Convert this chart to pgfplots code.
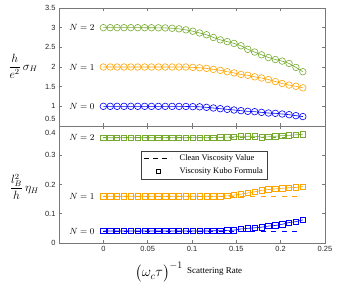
\documentclass[border=0pt]{standalone}
\usepackage{amsmath}
\usepackage{fontspec}
\setmainfont{Liberation Serif}
\setsansfont{Liberation Sans}
\usepackage{pgfplots}
\usepackage{pgfplotstable}
\pgfplotsset{compat=1.18}
\definecolor{cgreen}{RGB}{118,171,47}
\definecolor{corange}{RGB}{255,165,0}
\definecolor{cblue}{RGB}{0,0,255}
\definecolor{axgray}{RGB}{120,120,120}

\pgfplotstableread{
x g o b
0.0000 3.000 2.000 1.000
0.0078 3.000 2.000 1.000
0.0155 3.000 2.000 1.000
0.0233 3.000 2.000 1.000
0.0310 3.000 2.000 1.000
0.0388 3.000 2.000 1.000
0.0466 2.999 2.000 1.000
0.0543 2.998 2.000 0.999
0.0621 2.996 2.000 0.999
0.0698 2.993 2.000 0.999
0.0776 2.985 2.000 0.999
0.0853 2.970 2.000 0.998
0.0931 2.945 2.000 0.997
0.1009 2.910 1.990 0.992
0.1086 2.865 1.980 0.988
0.1164 2.820 1.965 0.975
0.1241 2.750 1.940 0.958
0.1319 2.690 1.915 0.940
0.1397 2.645 1.880 0.924
0.1474 2.600 1.850 0.907
0.1552 2.540 1.810 0.890
0.1629 2.450 1.790 0.873
0.1707 2.380 1.750 0.864
0.1784 2.310 1.720 0.847
0.1862 2.240 1.680 0.830
0.1940 2.190 1.630 0.822
0.2017 2.150 1.580 0.805
0.2095 2.090 1.540 0.788
0.2172 1.990 1.510 0.763
0.2250 1.880 1.470 0.740
}\topdata

\pgfplotstableread{
x g o b
0.0000 0.360 0.160 0.041
0.0078 0.360 0.160 0.041
0.0155 0.360 0.160 0.041
0.0233 0.360 0.160 0.041
0.0310 0.360 0.160 0.041
0.0388 0.360 0.160 0.041
0.0466 0.360 0.160 0.041
0.0543 0.360 0.160 0.041
0.0621 0.360 0.160 0.041
0.0698 0.360 0.160 0.041
0.0776 0.360 0.160 0.041
0.0853 0.360 0.160 0.041
0.0931 0.360 0.160 0.041
0.1009 0.360 0.160 0.041
0.1086 0.360 0.160 0.041
0.1164 0.360 0.160 0.041
0.1241 0.360 0.160 0.042
0.1319 0.362 0.160 0.042
0.1397 0.362 0.161 0.043
0.1474 0.363 0.164 0.044
0.1552 0.365 0.167 0.048
0.1629 0.365 0.171 0.050
0.1707 0.365 0.175 0.052
0.1784 0.362 0.180 0.054
0.1862 0.363 0.183 0.058
0.1940 0.365 0.185 0.060
0.2017 0.367 0.187 0.064
0.2095 0.368 0.189 0.070
0.2172 0.370 0.190 0.073
0.2250 0.372 0.193 0.079
}\botdata

\pgfplotsset{
  myaxis/.style={
    scale only axis, width=266bp, height=118bp,
    xmin=-0.05, xmax=0.25,
    xtick={0,0.05,0.1,0.15,0.2,0.25},
    tick align=inside,
    major tick length=3bp,
    axis line style={axgray, line width=0.8pt},
    tick style={axgray, line width=0.6pt},
    tick label style={font=\sffamily\fontsize{7.5}{8}\selectfont, text=black!85},
    /pgf/number format/assume math mode=true,
    /pgf/number format/fixed,
    clip=false,
  },
  circ/.style={line width=0.6pt, mark=o, mark size=3.3bp, mark options={solid, fill=#1, fill opacity=0.35}, color=#1},
  sqr/.style={line width=0.6pt, mark=square, mark size=2.7bp, mark options={solid, fill=#1, fill opacity=0.3}, color=#1},
  clean/.style={color=#1, line width=0.8pt, dash pattern=on 5bp off 5.5bp},
}

\begin{document}
\begin{tikzpicture}
\path[use as bounding box] (-59bp,8bp) rectangle (281bp,-281bp);

\begin{axis}[myaxis, name=top, at={(0bp,0bp)}, anchor=north west,
  height=118bp,
  ymin=0.5, ymax=3.5,
  xticklabels={},
  ytick={1,1.5,2,2.5,3,3.5},
  yticklabels={1,1.5,2,2.5,3,3.5},
  extra y ticks={0.5},
  extra y tick labels={0.5},
  extra y tick style={yticklabel style={yshift=7bp}},
]
\addplot[circ=cgreen] table[x=x,y=g] {\topdata};
\addplot[circ=corange] table[x=x,y=o] {\topdata};
\addplot[circ=cblue] table[x=x,y=b] {\topdata};
\node[anchor=east, font=\fontsize{9}{10}\selectfont] at (axis cs:-0.006,3) {$N=2$};
\node[anchor=east, font=\fontsize{9}{10}\selectfont] at (axis cs:-0.006,2) {$N=1$};
\node[anchor=east, font=\fontsize{9}{10}\selectfont] at (axis cs:-0.006,1) {$N=0$};
\end{axis}

\begin{axis}[myaxis, name=bot, at={(0bp,-118bp)}, anchor=north west,
  height=117bp,
  ymin=0, ymax=0.4,
  xticklabels={0,0.05,0.1,0.15,0.2,0.25},
  ytick={0,0.1,0.2,0.3},
  yticklabels={0,0.1,0.2,0.3},
  extra y ticks={0.4},
  extra y tick labels={0.4},
  extra y tick style={yticklabel style={yshift=-7bp}},
  legend style={at={(0.31,0.79)}, anchor=north west, draw=black!75, line width=0.6pt,
    font=\fontsize{8.5}{10}\selectfont, inner sep=2bp, row sep=1.5bp,
    cells={anchor=west},
    /tikz/every odd column/.append style={column sep=6bp}},
  legend cell align=left,
]
\addlegendimage{legend image code/.code={\draw[black, solid, line width=0.9pt, dash pattern=on 5bp off 4bp] (0bp,0bp) -- (27bp,0bp);}}
\addlegendentry{Clean Viscosity Value}
\addlegendimage{legend image code/.code={\draw[black, solid, line width=0.4pt] (11.5bp,-2bp) rectangle (15.5bp,2bp); \path[draw=none] (0bp,0bp) -- (27bp,0bp);}}
\addlegendentry{Viscosity Kubo Formula}
\addplot[clean=cgreen, forget plot] coordinates {(0,0.36) (0.225,0.36)};
\addplot[clean=corange, forget plot] coordinates {(0,0.16) (0.225,0.16)};
\addplot[clean=cblue, forget plot] coordinates {(0,0.04) (0.225,0.04)};
\addplot[sqr=cgreen, forget plot] table[x=x,y=g] {\botdata};
\addplot[sqr=corange, forget plot] table[x=x,y=o] {\botdata};
\addplot[sqr=cblue, forget plot] table[x=x,y=b] {\botdata};
\node[anchor=east, font=\fontsize{9}{10}\selectfont] at (axis cs:-0.006,0.36) {$N=2$};
\node[anchor=east, font=\fontsize{9}{10}\selectfont] at (axis cs:-0.006,0.16) {$N=1$};
\node[anchor=east, font=\fontsize{9}{10}\selectfont] at (axis cs:-0.006,0.04) {$N=0$};
\end{axis}

\node[font=\fontsize{11.5}{13}\selectfont] at (-36bp,-58bp) {$\dfrac{h}{e^2}\,\sigma_H$};
\node[font=\fontsize{11.5}{13}\selectfont] at (-34.5bp,-179bp) {$\dfrac{l_{B}^{2}}{h}\,\eta_H$};
\node[font=\fontsize{14}{16}\selectfont] at (100bp,-264bp) {$\bigl(\omega_c\tau\bigr)^{-1}$};
\node[anchor=west, font=\fontsize{9}{10}\selectfont, inner sep=0pt] at (128bp,-263bp) {Scattering Rate};
\end{tikzpicture}
\end{document}
